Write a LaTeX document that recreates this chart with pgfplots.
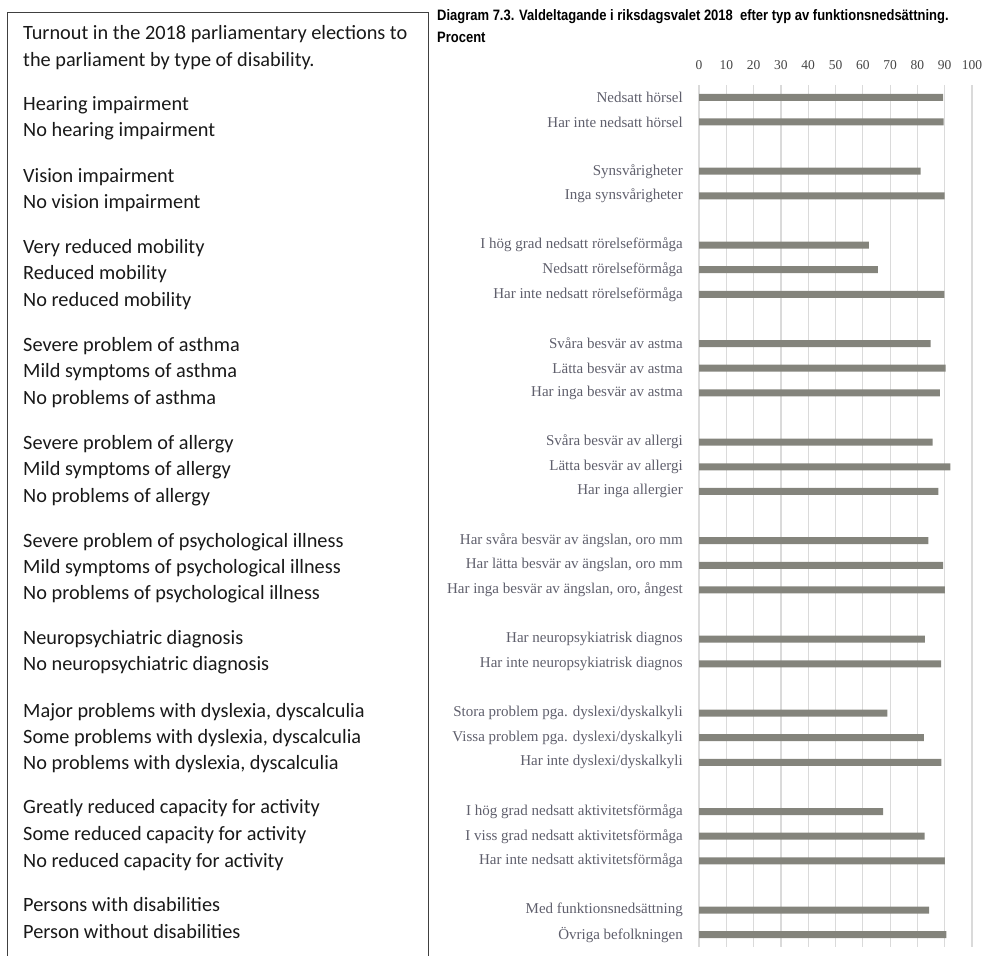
\documentclass[border=0pt]{standalone}
\usepackage{fontspec}
\setmainfont{Liberation Serif}
\newfontfamily\leftfont{Carlito}
\newfontfamily\titlefont[FakeStretch=0.86]{Liberation Sans}
\usepackage{pgfplots}
\usepackage{pgfplotstable}
\pgfplotsset{compat=1.18}

\definecolor{barGray}{RGB}{132,132,124}
\definecolor{gridGray}{RGB}{218,218,218}
\definecolor{labelGray}{RGB}{95,95,108}
\definecolor{tickGray}{RGB}{70,70,70}

% slot positions, one empty slot between groups
\pgfplotstableread{
pos val
0 89.4
1 89.6
3 81.2
4 90.0
6 62.2
7 65.5
8 89.9
10 84.8
11 90.3
12 88.2
14 85.6
15 92.1
16 87.7
18 84.0
19 89.4
20 90.1
22 82.7
23 88.7
25 69.0
26 82.4
27 88.8
29 67.4
30 82.6
31 90.1
33 84.3
34 90.6
}\turnout

\begin{document}
\begin{tikzpicture}
\useasboundingbox (0,0) rectangle (984bp,-956bp);

% left panel with the English translation
\draw[black!75, line width=0.8bp] (7bp,-960bp) -- (7bp,-12bp) -- (428bp,-12bp) -- (428bp,-960bp);
\foreach \yy/\tt in {
  33/{Turnout in the 2018 parliamentary elections to},
  60/{the parliament by type of disability.},
  104/{Hearing impairment},
  130/{No hearing impairment},
  176/{Vision impairment},
  202/{No vision impairment},
  247/{Very reduced mobility},
  273/{Reduced mobility},
  300/{No reduced mobility},
  345/{Severe problem of asthma},
  371/{Mild symptoms of asthma},
  398/{No problems of asthma},
  443/{Severe problem of allergy},
  469/{Mild symptoms of allergy},
  496/{No problems of allergy},
  541/{Severe problem of psychological illness},
  567/{Mild symptoms of psychological illness},
  593/{No problems of psychological illness},
  638/{Neuropsychiatric diagnosis},
  664/{No neuropsychiatric diagnosis},
  711/{Major problems with dyslexia, dyscalculia},
  737/{Some problems with dyslexia, dyscalculia},
  763/{No problems with dyslexia, dyscalculia},
  807/{Greatly reduced capacity for activity},
  834/{Some reduced capacity for activity},
  861/{No reduced capacity for activity},
  905/{Persons with disabilities},
  932/{Person without disabilities}}
  \node[anchor=mid west, inner sep=0pt, font=\leftfont\fontsize{20.3bp}{22bp}\selectfont, text=black!90]
    at (23bp,-\yy bp-4bp) {\tt};

% title
\node[anchor=mid west, inner sep=0pt, font=\titlefont\bfseries\fontsize{15.1bp}{16bp}\selectfont]
  at (437bp,-18bp) {Diagram 7.3. Valdeltagande i riksdagsvalet 2018~ efter typ av funktionsnedsättning.};
\node[anchor=mid west, inner sep=0pt, font=\titlefont\bfseries\fontsize{15.1bp}{16bp}\selectfont]
  at (437bp,-40bp) {Procent};

\begin{axis}[
    at={(699bp,-85bp)}, anchor=north west,
    scale only axis,
    width=273bp, height=862bp,
    xbar, bar width=7bp, bar shift=0pt,
    xmin=0, xmax=100,
    ymin=-0.5, ymax=34.5,
    y dir=reverse,
    axis line style={draw=none},
    xtick={0,10,...,100},
    xticklabel pos=top,
    xmajorgrids,
    grid style={gridGray, line width=1.2bp},
    major tick length=0pt,
    xticklabel style={font=\fontsize{13.5bp}{15bp}\selectfont, text=tickGray, yshift=12bp},
    /pgf/number format/assume math mode=true,
    ytick={0,1,3,4,6,7,8,10,11,12,14,15,16,18,19,20,22,23,25,26,27,29,30,31,33,34},
    yticklabels={
      Nedsatt hörsel, Har inte nedsatt hörsel,
      Synsvårigheter, Inga synsvårigheter,
      I hög grad nedsatt rörelseförmåga, Nedsatt rörelseförmåga, Har inte nedsatt rörelseförmåga,
      Svåra besvär av astma, Lätta besvär av astma, Har inga besvär av astma,
      Svåra besvär av allergi, Lätta besvär av allergi, Har inga allergier,
      {Har svåra besvär av ängslan, oro mm}, {Har lätta besvär av ängslan, oro mm}, {Har inga besvär av ängslan, oro, ångest},
      Har neuropsykiatrisk diagnos, Har inte neuropsykiatrisk diagnos,
      Stora problem pga. dyslexi/dyskalkyli, Vissa problem pga. dyslexi/dyskalkyli, Har inte dyslexi/dyskalkyli,
      I hög grad nedsatt aktivitetsförmåga, I viss grad nedsatt aktivitetsförmåga, Har inte nedsatt aktivitetsförmåga,
      Med funktionsnedsättning, Övriga befolkningen},
    yticklabel style={font=\fontsize{15bp}{16bp}\selectfont, text=labelGray, anchor=east, inner sep=0pt, xshift=-16bp},
]
\addplot[fill=barGray, draw=none] table[x=val, y=pos] {\turnout};
\end{axis}
\end{tikzpicture}
\end{document}
